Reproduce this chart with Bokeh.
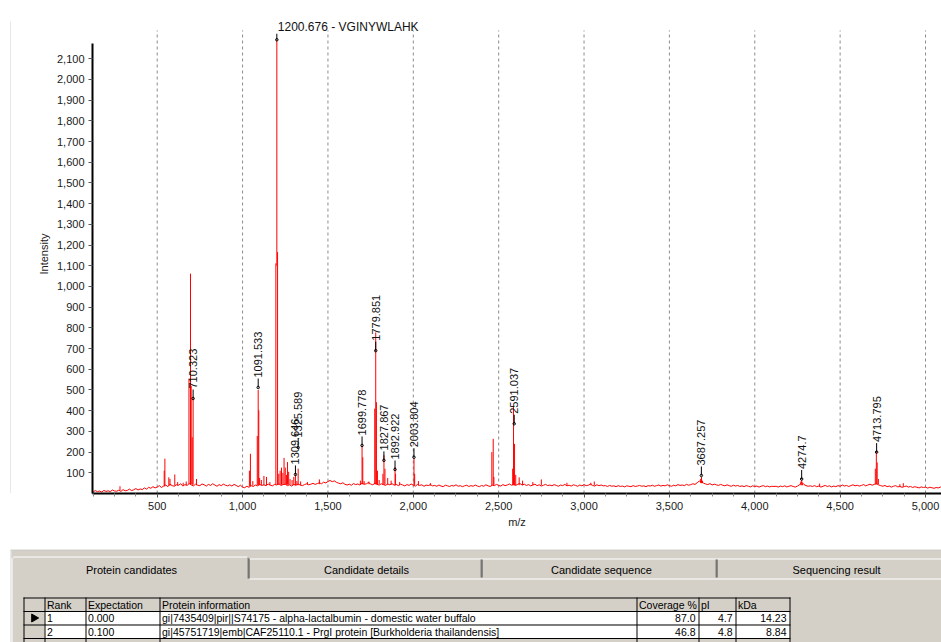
import numpy as np
from bokeh.plotting import figure
from bokeh.models import (Range1d, FixedTicker, NumeralTickFormatter, ColumnDataSource,
                          LabelSet, Label)
from bokeh.layouts import column, row
from bokeh.embed import file_html
from bokeh.resources import INLINE
from bokeh.core.properties import value

# ---------------- data ----------------
# baseline (noise) of the spectrum, sampled every 12.5 m/z from 125 to 5112.5
base_mz = list(np.arange(125, 5125, 12.5))
base_int = [
    8, 14, 9, 12, 7, 15, 10, 13, 9, 17, 12, 11, 16, 10, 19, 13, 15, 21, 14, 18,
    24, 17, 22, 19, 27, 21, 30, 25, 33, 27, 31, 38, 29, 36, 41, 33, 45, 38, 35, 42,
    40, 47, 36, 43, 39, 48, 41, 37, 45, 40, 38, 46, 42, 36, 44, 39, 47, 41, 35, 43,
    38, 45, 40, 37, 42, 36, 44, 39, 33, 40, 31, 28, 35, 30, 38, 34, 41, 37, 44, 39,
    42, 38, 46, 40, 37, 44, 41, 47, 39, 43, 45, 38, 42, 36, 44, 40, 46, 41, 38, 43,
    47, 42, 45, 49, 44, 48, 52, 47, 55, 51, 58, 63, 57, 61, 54, 50, 47, 52, 44, 41,
    45, 40, 48, 43, 46, 41, 50, 44, 47, 53, 46, 42, 49, 44, 41, 47, 43, 39, 46, 42,
    48, 40, 44, 38, 45, 41, 37, 43, 39, 46, 40, 36, 44, 39, 42, 35, 41, 38, 43, 37,
    39, 35, 41, 36, 33, 40, 37, 34, 39, 36, 42, 35, 38, 33, 37, 40, 34, 38, 35, 41,
    36, 33, 39, 35, 42, 37, 34, 40, 38, 44, 39, 36, 43, 38, 41, 46, 40, 44, 39, 45,
    48, 41, 45, 39, 43, 37, 41, 45, 38, 42, 36, 40, 44, 38, 41, 37, 43, 39, 35, 41,
    38, 44, 37, 40, 36, 42, 39, 35, 41, 37, 43, 38, 40, 45, 39, 36, 42, 38, 41, 37,
    38, 34, 39, 35, 37, 33, 38, 34, 36, 32, 37, 35, 33, 38, 34, 36, 39, 35, 37, 33,
    38, 36, 40, 35, 38, 41, 36, 39, 37, 42, 38, 35, 40, 37, 43, 39, 41, 38, 44, 40,
    43, 47, 44, 52, 60, 56, 50, 46, 43, 48, 41, 45, 42, 39, 44, 40, 37, 42, 38, 35,
    40, 36, 39, 34, 37, 33, 38, 35, 32, 37, 34, 36, 31, 35, 38, 33, 36, 32, 35, 34,
    35, 31, 36, 33, 37, 32, 35, 38, 34, 31, 36, 42, 55, 44, 38, 35, 37, 34, 38, 33,
    36, 31, 35, 39, 34, 37, 32, 36, 33, 38, 35, 41, 36, 39, 34, 38, 42, 37, 40, 36,
    39, 43, 37, 41, 45, 40, 44, 48, 42, 38, 35, 39, 33, 36, 31, 35, 38, 32, 34, 30,
    33, 36, 31, 34, 29, 33, 30, 27, 32, 29, 31, 26, 30, 28, 25, 29, 27, 31, 28, 30,
]

# peaks (m/z, top intensity, foot intensity)
peak_mz = [282, 541, 545, 568, 575, 603, 620, 652, 670,
           686, 695, 699, 705, 710.3, 730,
           1040, 1046, 1060, 1086, 1091.5, 1095, 1100, 1110, 1125, 1140, 1160,
           1195, 1200.7, 1205,
           1212, 1220, 1228, 1236, 1243, 1250, 1257, 1263, 1270, 1278, 1290, 1300,
           1309.6, 1318, 1325.6, 1340, 1380, 1450,
           1690, 1699.8, 1704, 1712, 1740,
           1774, 1779.9, 1784, 1790, 1800,
           1822, 1828, 1834, 1850, 1870, 1893, 1896, 1920,
           2004, 2008, 2030, 2100,
           2460, 2468, 2472,
           2582, 2587, 2593, 2600, 2620, 2640, 2700, 2750, 2900, 3040, 3060,
           3683, 3688, 3694,
           4270, 4275, 4280, 4380,
           4706, 4712, 4717, 4724, 4850, 4870]
peak_top = [35, 110, 168, 78, 70, 92, 55, 52, 58,
            555, 1062, 520, 272, 462, 70,
            110, 192, 60, 278, 500, 402, 75, 65, 85, 80, 55,
            1112, 2192, 1166,
            95, 110, 125, 100, 172, 125, 90, 152, 105, 70, 65, 80,
            92, 60, 120, 58, 55, 68,
            62, 232, 175, 60, 58,
            410, 778, 441, 110, 65,
            95, 185, 120, 75, 62, 127, 95, 55,
            168, 95, 60, 50,
            200, 264, 80,
            120, 425, 240, 90, 78, 62, 55, 68, 52, 52, 58,
            70, 80, 62,
            58, 66, 50, 48,
            120, 202, 150, 70, 45, 50]
peak_base = [15, 35, 35, 38, 38, 38, 38, 40, 40,
             45, 45, 45, 42, 42, 40,
             35, 35, 38, 40, 40, 40, 40, 40, 40, 40, 40,
             42, 1100, 42,
             42, 42, 42, 42, 42, 42, 42, 42, 42, 42, 40, 40,
             40, 40, 40, 40, 42, 45,
             45, 45, 45, 45, 45,
             45, 45, 45, 45, 45,
             42, 42, 42, 42, 42, 40, 40, 40,
             40, 40, 38, 38,
             40, 40, 40,
             40, 40, 40, 40, 40, 40, 40, 40, 40, 40, 40,
             50, 50, 50,
             40, 40, 40, 35,
             44, 44, 44, 44, 33, 33]

# annotated peaks
ann_text = ["710.323", "1091.533", "1309.646", "1325.589", "1699.778", "1779.851",
            "1827.867", "1892.922", "2003.804", "2591.037", "3687.257", "4274.7",
            "4713.795"]
ann_mz = [710.323, 1091.533, 1309.646, 1325.589, 1699.778, 1779.851,
          1827.867, 1892.922, 2003.804, 2591.037, 3687.257, 4274.7, 4713.795]
ann_int = [459, 512, 92, 222, 232, 690, 160, 116, 175, 337, 87, 70, 200]

main_mz = 1200.676
main_int = 2192
main_text = "1200.676 - VGINYWLAHK"

x_ticks = [500, 1000, 1500, 2000, 2500, 3000, 3500, 4000, 4500, 5000]
x_minor = [v for v in range(125, 5100, 125) if v % 500 != 0]
y_ticks = [100, 200, 300, 400, 500, 600, 700, 800, 900, 1000, 1100, 1200, 1300,
           1400, 1500, 1600, 1700, 1800, 1900, 2000, 2100]
grid_top = 2237

tab_labels = ["Protein candidates", "Candidate details", "Candidate sequence",
              "Sequencing result"]
col_headers = ["Rank", "Expectation", "Protein information", "Coverage %", "pI", "kDa"]
rank = ["1", "2"]
expectation = ["0.000", "0.100"]
protein_info = ["gi|7435409|pir||S74175 - alpha-lactalbumin - domestic water buffalo",
                "gi|45751719|emb|CAF25110.1 - PrgI protein [Burkholderia thailandensis]"]
coverage = [87.0, 46.8]
pI = [4.7, 4.8]
kda = [14.23, 8.84]

FONT = "Liberation Sans"
RED = "#ff0000"

# ---------------- spectrum chart ----------------
p = figure(width=930, height=549, x_range=Range1d(121.0, 5093.7), y_range=Range1d(0, 2314),
           output_backend="svg", toolbar_location=None,
           min_border_left=81, min_border_right=0, min_border_top=14, min_border_bottom=56)
p.outline_line_color = None
p.background_fill_color = "white"
p.border_fill_color = "white"

# dashed grid (stops below the top label)
p.segment(x0=x_ticks, y0=[0] * len(x_ticks), x1=x_ticks, y1=[grid_top] * len(x_ticks),
          line_color="#8c8c8c", line_dash="3 3", line_width=1)

p.line(base_mz, base_int, line_color=RED, line_width=1)
p.segment(x0=peak_mz, y0=peak_base, x1=peak_mz, y1=peak_top, line_color=RED, line_width=1)

# annotations
p.ray(x=ann_mz, y=ann_int, length=9, length_units="screen", angle=np.pi / 2,
      line_color="black", line_width=1)
p.scatter(x=ann_mz, y=ann_int, size=2.5, marker="circle", line_color="black",
          fill_color=None, line_width=1)
src = ColumnDataSource(dict(x=ann_mz, y=ann_int, t=ann_text))
p.add_layout(LabelSet(x="x", y="y", text="t", source=src, angle=np.pi / 2, y_offset=10,
                      text_align="left", text_baseline="middle",
                      text_font=value(FONT), text_font_size="11px", text_color="#111111"))
p.ray(x=[main_mz], y=[main_int], length=6, length_units="screen", angle=np.pi / 2,
      line_color="black", line_width=1)
p.scatter(x=[main_mz], y=[main_int], size=2.5, marker="circle", line_color="black",
          fill_color=None, line_width=1)
p.add_layout(Label(x=main_mz, y=main_int, text=main_text, x_offset=1, y_offset=13,
                   text_align="left", text_baseline="middle", text_font=FONT,
                   text_font_size="12px", text_color="#111111"))

# axes
p.xaxis.ticker = FixedTicker(ticks=x_ticks, minor_ticks=x_minor)
p.yaxis.ticker = FixedTicker(ticks=y_ticks)
p.xaxis.formatter = NumeralTickFormatter(format="0,0")
p.yaxis.formatter = NumeralTickFormatter(format="0,0")
p.yaxis.bounds = (0, 2175)
for ax in (p.xaxis, p.yaxis):
    ax.axis_line_width = 2
    ax.axis_line_color = "black"
    ax.major_tick_out = 4
    ax.major_tick_in = 0
    ax.minor_tick_out = 3
    ax.minor_tick_in = 0
    ax.major_tick_line_color = "#555555"
    ax.minor_tick_line_color = "#888888"
    ax.major_label_text_font = FONT
    ax.major_label_text_font_size = "11px"
    ax.major_label_text_color = "#1a1a1a"
    ax.major_label_standoff = 4
    ax.axis_label_text_font = FONT
    ax.axis_label_text_font_size = "11px"
    ax.axis_label_text_font_style = "normal"
    ax.axis_label_text_color = "#1a1a1a"
p.xaxis.axis_label = "m/z"
p.yaxis.axis_label = "Intensity"
p.xaxis.axis_label_standoff = 3
p.yaxis.axis_label_standoff = 4
p.yaxis.minor_tick_line_color = None
p.grid.visible = False

# left border strip of the chart panel
strip = figure(width=11, height=549, x_range=Range1d(0, 11), y_range=Range1d(0, 549),
               output_backend="svg", toolbar_location=None, min_border=0,
               x_axis_type=None, y_axis_type=None)
strip.grid.visible = False
strip.outline_line_color = None
strip.background_fill_color = "white"
strip.border_fill_color = "white"
strip.quad(left=[10], right=[11], bottom=[0], top=[541], fill_color="#d0d0d0", line_color=None)

# ---------------- bottom panel with tabs and table ----------------
t = figure(width=941, height=93, x_range=Range1d(0, 941), y_range=Range1d(642, 549),
           output_backend="svg", toolbar_location=None, min_border=0,
           x_axis_type=None, y_axis_type=None)
t.grid.visible = False
t.outline_line_color = None
t.background_fill_color = "white"
t.border_fill_color = "white"

GRAY = "#d4d0c8"
t.quad(left=[11], right=[945], top=[549], bottom=[660], fill_color=GRAY, line_color=None)
t.segment(x0=[10], y0=[549.5], x1=[945], y1=[549.5], line_color="#c8c8c8", line_width=1)
t.segment(x0=[10.5], y0=[549], x1=[10.5], y1=[660], line_color="#d0d0d0", line_width=1)

# tab strip
t.segment(x0=[249, 249], y0=[558.5, 578.5], x1=[945, 945], y1=[558.5, 578.5],
          line_color="white", line_width=1)
t.segment(x0=[480.5, 715.5], y0=[559, 559], x1=[480.5, 715.5], y1=[577, 577],
          line_color="#808080", line_width=1)
t.segment(x0=[481.5, 716.5], y0=[559, 559], x1=[481.5, 716.5], y1=[577, 577],
          line_color="#404040", line_width=1)
# selected tab
t.segment(x0=[13, 11.5], y0=[556.5, 558], x1=[247, 11.5], y1=[556.5, 660],
          line_color="white", line_width=1)
t.quad(left=[12], right=[13], top=[557], bottom=[558], fill_color="white", line_color=None)
t.segment(x0=[247.5], y0=[557], x1=[247.5], y1=[578], line_color="#808080", line_width=1)
t.segment(x0=[248.5], y0=[558], x1=[248.5], y1=[578], line_color="#404040", line_width=1)
tab_cx = [131, 366, 601, 836]
t.text(x=tab_cx, y=[569.5] * 4, text=tab_labels, text_align="center", text_baseline="middle",
       text_font=value(FONT), text_font_size="11px", text_color="black")

# table
col_x = [23, 44, 85, 159, 636, 698, 735, 789]
row_y = [597, 610.5, 624, 637.5, 651]
t.quad(left=[44, 44], right=[789, 789], top=row_y[1:3], bottom=row_y[2:4],
       fill_color="white", line_color=None)
t.segment(x0=[c + 0.5 for c in col_x], y0=[597] * len(col_x),
          x1=[c + 0.5 for c in col_x], y1=[660] * len(col_x), line_color="black", line_width=1)
t.segment(x0=[23] * len(row_y), y0=[r + 0.5 for r in row_y],
          x1=[790] * len(row_y), y1=[r + 0.5 for r in row_y], line_color="black", line_width=1)
t.scatter(x=[33.5], y=[617.5], marker="triangle", angle=-np.pi / 2, size=8,
          fill_color="black", line_color="black")

TFS = "10.5px"
hy = (row_y[0] + row_y[1]) / 2 + 0.5
t.text(x=[c + 2.5 for c in col_x[1:7]], y=[hy] * 6, text=col_headers, text_align="left",
       text_baseline="middle", text_font=value(FONT), text_font_size=TFS, text_color="black")
ry = [(row_y[i] + row_y[i + 1]) / 2 + 0.5 for i in range(1, 3)]
left_cols = [rank, expectation, protein_info]
for ci, vals in enumerate(left_cols):
    t.text(x=[col_x[ci + 1] + 2.5] * 2, y=ry, text=vals, text_align="left",
           text_baseline="middle", text_font=value(FONT), text_font_size=TFS,
           text_color="black")
right_cols = [[f"{v:.1f}" for v in coverage], [f"{v:.1f}" for v in pI],
              [f"{v:.2f}" for v in kda]]
for ci, vals in enumerate(right_cols):
    t.text(x=[col_x[ci + 5] - 3] * 2, y=ry, text=vals, text_align="right",
           text_baseline="middle", text_font=value(FONT), text_font_size=TFS,
           text_color="black")

layout = column(row(strip, p, spacing=0), t, spacing=0)
open("out.html", "w").write(file_html(layout, INLINE))
